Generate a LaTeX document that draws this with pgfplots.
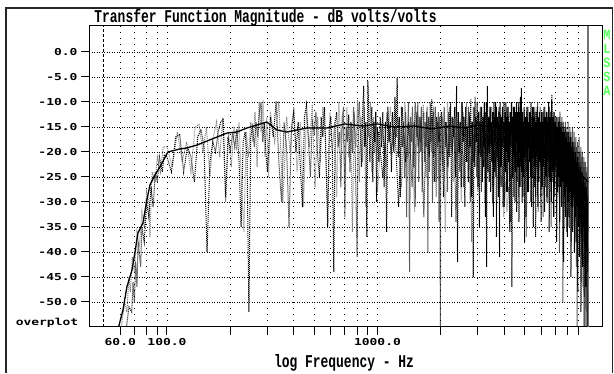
\documentclass[border=0pt]{standalone}
\usepackage{pgfplots}
\pgfplotsset{compat=1.18}
\usepackage{fontspec}
\setmainfont{Liberation Mono}
\newfontfamily\tickfont[FakeStretch=1.35]{DejaVu Sans Mono}
\newfontfamily\titlefont[FakeStretch=0.72]{Liberation Mono}
\newfontfamily\greenfont[FakeStretch=0.85]{Liberation Mono}
\definecolor{mlgreen}{RGB}{85,255,85}
\begin{document}
\begin{tikzpicture}[x=1pt,y=1pt]
\fill[white] (0,0) rectangle (614,373);
\draw[black!85, line width=1.6pt] (5.8,0) -- (5.8,365) -- (612.6,365) -- (612.6,0);
\begin{axis}[
  at={(89pt,46pt)}, anchor=south west,
  scale only axis, width=513pt, height=301pt,
  xmode=log, xmin=42.62, xmax=11654, ymin=-55, ymax=5.2,
  axis line style={line width=1pt, black},
  xtick={60,70,80,90,100,200,300,400,500,600,700,800,900,1000,2000,3000,4000,5000,6000,7000,8000,9000},
  xticklabels={60.0,,,,100.0,,,,,,,,,1000.0,,,,,,,,},
  minor xtick={},
  ytick={-50,-45,-40,-35,-30,-25,-20,-15,-10,-5,0},
  yticklabels={-50.0,-45.0,-40.0,-35.0,-30.0,-25.0,-20.0,-15.0,-10.0,-5.0,0.0},
  tick align=outside, tick pos=left, major tick length=8pt,
  tick style={black, line width=1pt},
  xmajorgrids, ymajorgrids,
  x grid style={black, line width=0.9pt, dash pattern=on 1pt off 5pt},
  y grid style={black, line width=0.9pt, dash pattern=on 1pt off 1.5pt},
  ticklabel style={font=\tickfont\bfseries\fontsize{9.6}{10}\selectfont},
]
% cursor lines
\addplot[black, line width=1pt, dash pattern=on 3pt off 2pt] coordinates {(50,-55) (50,5.2)};
\addplot[black!55, line width=1.6pt] coordinates {(10000,-55) (10000,5.2)};
% gray overplot trace
\addplot[black!50, line width=1pt, dash pattern=on 1pt off 1pt] table[row sep=\\] {
f db\\
60.5 -55.5\\ 63 -50\\ 64.5 -52\\ 66 -45\\ 67 -48\\ 68.5 -41\\ 70 -44\\ 72 -36\\ 74 -39\\ 76 -32\\ 78 -35\\ 80 -28\\ 82 -30\\ 83 -37\\ 85 -24\\ 88 -26\\ 90 -21\\ 93 -24\\ 96 -19\\
100 -19\\ 106 -23\\ 112 -16\\ 118 -22\\ 124 -18\\ 130 -24\\ 136 -15\\ 142 -14.5\\ 148 -20\\ 154 -15\\ 160 -25\\ 166 -17\\ 172 -14\\ 178 -21\\ 184 -13.2\\ 190 -30\\ 196 -16\\ 202 -23\\ 208 -15\\ 214 -19\\ 220 -14\\ 226 -27\\ 232 -36\\ 238 -16\\ 244 -21\\ 250 -14\\ 256 -18\\ 262 -12\\ 268 -23\\ 274 -10\\ 280 -16\\ 286 -9.6\\ 292 -21\\ 298 -13\\ 304 -25\\ 310 -12\\
325 -18\\ 340 -9.8\\ 355 -30\\ 370 -13\\ 385 -20\\ 400 -11\\ 415 -24\\ 430 -14\\ 445 -31\\ 460 -12\\ 475 -19\\ 490 -10.5\\ 505 -27\\ 520 -13\\ 535 -22\\ 550 -11\\ 565 -17\\ 580 -34\\ 595 -12\\ 610 -20\\ 625 -14\\ 640 -29\\ 655 -10\\ 670 -18\\ 685 -13\\ 700 -25\\ 715 -11\\ 730 -21\\ 745 -14\\ 760 -36\\ 775 -12\\ 790 -19\\ 805 -9.6\\ 820 -26\\ 835 -13\\ 850 -22\\ 865 -11\\ 880 -31\\ 895 -14\\ 910 -17\\ 925 -10\\ 940 -24\\ 955 -13\\ 970 -20\\ 985 -12\\ 1000 -28\\
1050 -14\\ 1100 -23\\ 1150 -11\\ 1200 -19\\ 1250 -13\\ 1300 -27\\ 1350 -10\\ 1400 -21\\ 1450 -15\\ 1500 -32\\ 1550 -12\\ 1600 -18\\ 1650 -10.5\\ 1700 -25\\ 1750 -13\\ 1800 -20\\ 1850 -11\\ 1900 -29\\ 1950 -14\\ 2000 -22\\ 2050 -12\\ 2100 -36\\ 2150 -10\\ 2200 -19\\ 2250 -13\\ 2300 -26\\ 2350 -11\\ 2400 -21\\ 2450 -14\\ 2500 -30\\ 2550 -12\\ 2600 -17\\ 2650 -10\\ 2700 -24\\ 2750 -13\\ 2800 -38\\ 2850 -11\\ 2900 -20\\ 2950 -14\\ 3000 -28\\
3070 -12\\ 3140 -22\\ 3210 -10\\ 3280 -27\\ 3350 -13\\ 3420 -19\\ 3490 -11\\ 3560 -31\\ 3630 -14\\ 3700 -23\\ 3770 -12\\ 3840 -26\\ 3910 -25\\ 3980 -33\\ 4050 -26\\ 4120 -32\\ 4190 -27\\ 4260 -34\\ 4330 -25\\ 4400 -20\\ 4470 -12\\ 4540 -24\\ 4610 -14\\ 4680 -29\\ 4750 -11\\ 4820 -21\\ 4890 -13\\ 4960 -27\\ 5030 -14\\ 5100 -37\\ 5170 -12\\ 5240 -22\\ 5310 -15\\ 5380 -28\\ 5450 -13\\ 5520 -20\\ 5590 -11\\ 5660 -26\\ 5730 -14\\ 5800 -32\\ 5870 -13\\ 5940 -23\\ 6010 -15\\ 6080 -27\\ 6150 -12\\ 6220 -21\\ 6290 -14\\ 6360 -30\\ 6430 -13\\ 6500 -24\\ 6570 -15\\ 6640 -28\\ 6710 -11\\ 6780 -22\\ 6850 -14\\ 6920 -33\\ 6990 -15\\ 7060 -25\\ 7130 -13\\ 7200 -29\\ 7270 -16\\ 7340 -23\\ 7410 -14\\ 7480 -31\\ 7550 -16\\ 7620 -26\\ 7690 -15\\ 7760 -35\\ 7830 -17\\ 7900 -28\\ 7970 -16\\ 8040 -32\\ 8110 -18\\ 8180 -27\\ 8250 -17\\ 8320 -39\\ 8390 -19\\ 8460 -30\\ 8530 -18\\ 8600 -34\\ 8670 -20\\ 8740 -29\\ 8810 -19\\ 8880 -42\\ 8950 -21\\ 9020 -33\\ 9090 -20\\ 9160 -38\\ 9230 -22\\ 9300 -31\\ 9370 -21\\ 9440 -47\\ 9510 -23\\ 9580 -35\\ 9650 -22\\ 9720 -41\\ 9790 -24\\ 9860 -52\\ 9930 -25\\ 10000 -40\\
};
% black overplot trace 2 (high frequencies)
\addplot[black, line width=1pt, dash pattern=on 1pt off 1pt] table[row sep=\\] {
f db\\
1010 -16\\ 1060 -25\\ 1110 -12\\ 1160 -20\\ 1210 -15\\ 1260 -31\\ 1310 -11\\ 1360 -22\\ 1410 -14\\ 1460 -27\\ 1510 -10\\ 1560 -19\\ 1610 -13\\ 1660 -33\\ 1710 -12\\ 1760 -21\\ 1810 -9.5\\ 1860 -26\\ 1910 -13\\ 1960 -18\\ 2010 -12\\ 2060 -29\\ 2110 -14\\ 2160 -23\\ 2210 -11\\ 2260 -20\\ 2310 -15\\ 2360 -34\\ 2410 -12\\ 2460 -24\\ 2510 -10\\ 2560 -27\\ 2610 -13\\ 2660 -19\\ 2710 -11\\ 2760 -30\\ 2810 -14\\ 2860 -22\\ 2910 -9\\ 2960 -25\\
3010 -13\\ 3045 -20\\ 3080 -11\\ 3115 -28\\ 3150 -14\\ 3185 -23\\ 3220 -12\\ 3255 -33\\ 3290 -10\\ 3325 -21\\ 3360 -13\\ 3395 -26\\ 3430 -11\\ 3465 -19\\ 3500 -14\\ 3535 -30\\ 3570 -12\\ 3605 -24\\ 3640 -10\\ 3675 -37\\ 3710 -13\\ 3745 -22\\ 3780 -11\\ 3815 -27\\ 3850 -14\\ 3885 -20\\ 3920 -12\\ 3955 -31\\ 3990 -10\\ 4025 -23\\ 4060 -13\\ 4095 -28\\ 4130 -11\\ 4165 -21\\ 4200 -14\\ 4235 -26\\ 4270 -12\\ 4305 -34\\ 4340 -10\\ 4375 -22\\ 4410 -13\\ 4445 -29\\ 4480 -11\\ 4515 -24\\ 4550 -14\\ 4585 -32\\ 4620 -12\\ 4655 -20\\ 4690 -10\\ 4725 -27\\ 4760 -13\\ 4795 -23\\ 4830 -11\\ 4865 -30\\ 4900 -14\\ 4935 -25\\ 4970 -12\\ 5005 -21\\ 5040 -15\\ 5075 -33\\ 5110 -13\\ 5145 -24\\ 5180 -11\\ 5215 -28\\ 5250 -14\\ 5285 -22\\ 5320 -12\\ 5355 -30\\ 5390 -15\\ 5425 -25\\ 5460 -11\\ 5495 -35\\ 5530 -13\\ 5565 -23\\ 5600 -12\\ 5635 -29\\ 5670 -14\\ 5705 -21\\ 5740 -11\\ 5775 -31\\ 5810 -13\\ 5845 -26\\ 5880 -12\\ 5915 -22\\ 5950 -14\\ 5985 -34\\
6020 -12\\ 6060 -27\\ 6100 -14\\ 6140 -23\\ 6180 -11\\ 6220 -32\\ 6260 -13\\ 6300 -25\\ 6340 -12\\ 6380 -29\\ 6420 -14\\ 6460 -22\\ 6500 -10\\ 6540 -36\\ 6580 -13\\ 6620 -26\\ 6660 -12\\ 6700 -30\\ 6740 -8.5\\ 6780 -24\\ 6820 -13\\ 6860 -33\\ 6900 -12\\ 6940 -27\\ 6980 -14\\ 7020 -23\\ 7060 -13\\ 7100 -38\\ 7140 -15\\ 7180 -28\\ 7220 -14\\ 7260 -25\\ 7300 -13\\ 7340 -34\\ 7380 -15\\ 7420 -27\\ 7460 -14\\ 7500 -31\\ 7540 -16\\ 7580 -26\\ 7620 -15\\ 7660 -42\\ 7700 -16\\ 7740 -29\\ 7780 -15\\ 7820 -33\\ 7860 -17\\ 7900 -27\\ 7940 -16\\ 7980 -37\\ 8020 -18\\ 8060 -30\\ 8100 -16\\ 8140 -35\\ 8180 -18\\ 8220 -28\\ 8260 -17\\ 8300 -45\\ 8340 -19\\ 8380 -31\\ 8420 -18\\ 8460 -36\\ 8500 -20\\ 8540 -29\\ 8580 -19\\ 8620 -40\\ 8660 -21\\ 8700 -33\\ 8740 -20\\ 8780 -38\\ 8820 -22\\ 8860 -31\\ 8900 -21\\ 8940 -48\\ 8980 -23\\ 9020 -35\\ 9060 -22\\ 9100 -41\\ 9140 -24\\ 9180 -33\\ 9220 -23\\ 9260 -52\\ 9300 -25\\ 9340 -37\\ 9380 -24\\ 9420 -43\\ 9460 -26\\ 9500 -35\\ 9540 -25\\ 9580 -55\\ 9620 -27\\ 9660 -39\\ 9700 -26\\ 9740 -47\\ 9780 -28\\ 9820 -40\\ 9860 -27\\ 9900 -55\\ 9940 -29\\ 9980 -42\\
};
% black overplot trace
\addplot[black, line width=1pt, dash pattern=on 1pt off 1pt] table[row sep=\\] {
f db\\
64 -55.5\\ 66 -51\\ 68 -52\\ 69 -46\\ 70 -50\\ 71 -42\\ 72 -47\\ 73 -38\\ 75 -43\\ 76 -35\\ 78 -38\\ 80 -30\\ 82 -33\\ 84 -27\\ 86 -31\\ 88 -24\\ 90 -26\\ 92 -21\\ 95 -24\\ 97 -20.5\\
100 -21\\ 105 -24\\ 110 -17\\ 115 -16.5\\ 120 -24\\ 125 -19\\ 130 -21\\ 135 -26\\ 140 -17\\ 145 -15.5\\ 150 -19\\ 155 -40\\ 160 -22\\ 165 -18\\ 170 -20\\ 175 -16\\ 180 -14\\ 185 -13.5\\ 190 -29\\ 195 -17\\ 200 -20\\ 205 -16\\ 210 -19\\ 215 -15.5\\ 220 -22\\ 225 -35\\ 230 -18\\ 235 -16\\ 240 -21\\ 245 -52\\ 250 -17\\ 255 -15\\ 260 -19\\ 265 -14\\ 270 -17\\ 275 -12\\ 280 -10\\ 285 -18\\ 290 -14\\ 295 -20\\ 300 -24\\
310 -13\\ 320 -17\\ 330 -9.8\\ 340 -22\\ 350 -30\\ 360 -14\\ 370 -19\\ 380 -35\\ 390 -15\\ 400 -12\\ 410 -20\\ 420 -14\\ 430 -23\\ 440 -31\\ 450 -13\\ 460 -10.5\\ 470 -18\\ 480 -25\\ 490 -14\\ 500 -16\\ 510 -12\\ 520 -21\\ 530 -25\\ 540 -13\\ 550 -17\\ 560 -11\\ 570 -22\\ 580 -35\\ 590 -15\\ 600 -13\\ 610 -20\\ 620 -44\\ 630 -14\\ 640 -12\\ 650 -19\\ 660 -16\\ 670 -27\\ 680 -13\\ 690 -11\\ 700 -33\\ 710 -15\\ 720 -18\\ 730 -12.5\\ 740 -24\\ 750 -14\\ 760 -20\\ 770 -11\\ 780 -16\\ 790 -28\\ 800 -41\\ 810 -13\\ 820 -10\\ 830 -17\\ 840 -23\\ 850 -12\\ 860 -6.8\\ 870 -19\\ 880 -14\\ 890 -37\\ 900 -5.8\\ 910 -13\\ 920 -22\\ 930 -15\\ 940 -11\\ 950 -26\\ 960 -14\\ 970 -18\\ 980 -12\\ 990 -30\\ 1000 -15\\
1015 -22\\ 1030 -13\\ 1045 -19\\ 1060 -12\\ 1075 -27\\ 1090 -14\\ 1105 -36\\ 1120 -11\\ 1135 -18\\ 1150 -14\\ 1165 -24\\ 1180 -12\\ 1195 -20\\ 1210 -9\\ 1225 -17\\ 1240 -5.2\\ 1255 -21\\ 1270 -13\\ 1285 -29\\ 1300 -11\\ 1315 -19\\ 1330 -14\\ 1345 -25\\ 1360 -12\\ 1375 -33\\ 1390 -15\\ 1405 -10\\ 1420 -44\\ 1435 -13\\ 1450 -18\\ 1465 -11\\ 1480 -23\\ 1495 -14\\ 1510 -31\\ 1525 -12\\ 1540 -17\\ 1555 -10\\ 1570 -26\\ 1585 -13\\ 1600 -20\\ 1615 -11\\ 1630 -28\\ 1645 -15\\ 1660 -12\\ 1675 -22\\ 1690 -14\\ 1705 -19\\ 1720 -11\\ 1735 -40\\ 1750 -13\\ 1765 -24\\ 1780 -10\\ 1795 -18\\ 1810 -13\\ 1825 -30\\ 1840 -12\\ 1855 -21\\ 1870 -15\\ 1885 -11\\ 1900 -26\\ 1915 -14\\ 1930 -19\\ 1945 -12\\ 1960 -34\\ 1975 -13\\ 1990 -55\\ 2000 -16\\
2025 -13\\ 2050 -24\\ 2075 -11\\ 2100 -19\\ 2125 -14\\ 2150 -28\\ 2175 -12\\ 2200 -21\\ 2225 -10\\ 2250 -33\\ 2275 -13\\ 2300 -17\\ 2325 -11\\ 2350 -25\\ 2375 -6.8\\ 2400 -42\\ 2425 -12\\ 2450 -20\\ 2475 -14\\ 2500 -27\\ 2525 -10\\ 2550 -18\\ 2575 -13\\ 2600 -31\\ 2625 -11\\ 2650 -22\\ 2675 -15\\ 2700 -26\\ 2725 -12\\ 2750 -19\\ 2775 -9.5\\ 2800 -29\\ 2825 -14\\ 2850 -45\\ 2875 -11\\ 2900 -23\\ 2925 -13\\ 2950 -18\\ 2975 -10\\ 3000 -27\\ 3025 -12\\ 3050 -35\\ 3075 -14\\ 3100 -21\\ 3125 -11\\ 3150 -26\\ 3175 -13\\ 3200 -19\\ 3225 -10\\ 3250 -30\\ 3275 -12\\ 3300 -43\\ 3325 -6.8\\ 3350 -24\\ 3375 -13\\ 3400 -20\\ 3425 -11\\ 3450 -28\\ 3475 -14\\ 3500 -22\\ 3525 -12\\ 3550 -33\\ 3575 -10\\ 3600 -18\\ 3625 -13\\ 3650 -25\\ 3675 -11\\ 3700 -21\\ 3725 -14\\ 3750 -29\\ 3775 -12\\ 3800 -41\\ 3825 -10\\ 3850 -23\\ 3875 -13\\ 3900 -27\\ 3925 -11\\ 3950 -19\\ 3975 -14\\ 4000 -31\\ 4025 -12\\ 4050 -24\\ 4075 -10\\ 4100 -20\\ 4125 -13\\ 4150 -28\\ 4175 -11\\ 4200 -22\\ 4225 -14\\ 4250 -36\\ 4275 -12\\ 4300 -19\\ 4325 -10\\ 4350 -47\\ 4375 -13\\ 4400 -25\\ 4425 -11\\ 4450 -21\\ 4475 -14\\ 4500 -30\\ 4525 -12\\ 4550 -18\\ 4575 -10\\ 4600 -26\\ 4625 -13\\ 4650 -23\\ 4675 -11\\ 4700 -34\\ 4725 -12\\ 4750 -20\\ 4775 -9\\ 4800 -27\\ 4825 -7.2\\ 4850 -24\\ 4875 -12\\ 4900 -29\\ 4925 -14\\ 4950 -21\\ 4975 -11\\ 5000 -38\\
5040 -13\\ 5080 -22\\ 5120 -11\\ 5160 -28\\ 5200 -14\\ 5240 -19\\ 5280 -12\\ 5320 -25\\ 5360 -10\\ 5400 -31\\ 5440 -13\\ 5480 -21\\ 5520 -11\\ 5560 -27\\ 5600 -14\\ 5640 -37\\ 5680 -12\\ 5720 -23\\ 5760 -10\\ 5800 -26\\ 5840 -13\\ 5880 -20\\ 5920 -11\\ 5960 -29\\ 6000 -14\\ 6040 -24\\ 6080 -12\\ 6120 -33\\ 6160 -13\\ 6200 -21\\ 6240 -11\\ 6280 -27\\ 6320 -14\\ 6360 -23\\ 6400 -12\\ 6440 -30\\ 6480 -13\\ 6520 -25\\ 6560 -11\\ 6600 -22\\ 6640 -14\\ 6680 -35\\ 6720 -9.5\\ 6760 -26\\ 6800 -13\\ 6840 -21\\ 6880 -12\\ 6920 -29\\ 6960 -14\\ 7000 -24\\ 7040 -13\\ 7080 -32\\ 7120 -15\\ 7160 -22\\ 7200 -13\\ 7240 -27\\ 7280 -14\\ 7320 -40\\ 7360 -12\\ 7400 -25\\ 7440 -15\\ 7480 -30\\ 7520 -13\\ 7560 -23\\ 7600 -50\\ 7640 -14\\ 7680 -26\\ 7720 -16\\ 7760 -31\\ 7800 -14\\ 7840 -24\\ 7880 -15\\ 7920 -36\\ 7960 -16\\ 8000 -27\\ 8040 -14\\ 8080 -33\\ 8120 -17\\ 8160 -25\\ 8200 -15\\ 8240 -29\\ 8280 -16\\ 8320 -38\\ 8360 -17\\ 8400 -27\\ 8440 -15\\ 8480 -31\\ 8520 -18\\ 8560 -26\\ 8600 -16\\ 8640 -34\\ 8680 -18\\ 8720 -29\\ 8760 -17\\ 8800 -43\\ 8840 -19\\ 8880 -55\\ 8920 -18\\ 8960 -31\\ 9000 -20\\ 9040 -27\\ 9080 -17\\ 9120 -36\\ 9160 -20\\ 9200 -30\\ 9240 -19\\ 9280 -46\\ 9320 -21\\ 9360 -33\\ 9400 -20\\ 9440 -38\\ 9480 -22\\ 9520 -30\\ 9560 -21\\ 9600 -49\\ 9640 -23\\ 9680 -34\\ 9720 -22\\ 9760 -55\\ 9800 -24\\ 9840 -37\\ 9880 -23\\ 9920 -44\\ 9960 -25\\ 10000 -36\\
};
% smoothed trace
\addplot[black, line width=1.3pt] table[row sep=\\] {
f db\\
58.5 -55.5\\ 61.8 -51.6\\ 64.5 -47\\ 68.2 -43.6\\ 70.5 -40\\ 72.8 -36.2\\ 76.9 -34.2\\ 80.3 -29.6\\ 83 -26.6\\ 87.7 -24.6\\ 92.6 -23\\ 101 -20\\ 115 -19.4\\ 124 -19.2\\ 139 -18.6\\ 155 -17.8\\ 173 -17\\ 193 -16.2\\ 215 -16\\ 240 -15.2\\ 268 -14.6\\ 298 -14\\ 333 -15.6\\ 371 -16\\ 462 -15.2\\ 575 -15.2\\ 700 -14.4\\ 850 -14.8\\ 1000 -14.4\\ 1200 -15\\ 1500 -14.8\\ 1800 -15.4\\ 2200 -14.8\\ 2600 -15.2\\ 3000 -14.6\\ 3500 -15\\ 4000 -14.4\\ 4400 -14\\ 4700 -15.6\\ 5000 -18\\ 5300 -19.4\\ 5600 -17\\ 5900 -15\\ 6200 -16.5\\ 6700 -18.5\\ 7200 -20\\ 7800 -21.5\\ 8400 -22\\ 9000 -23.5\\ 9500 -25\\ 10000 -26\\
};
\end{axis}
\node[font=\titlefont\bfseries\fontsize{18}{18}\selectfont, anchor=base, inner sep=0pt] at (265.5,350) {Transfer Function Magnitude - dB volts/volts};
\node[font=\titlefont\bfseries\fontsize{18}{18}\selectfont, anchor=base, inner sep=0pt] at (344,5) {log Frequency - Hz};
\node[font=\tickfont\bfseries\fontsize{9.6}{10}\selectfont, anchor=base, inner sep=0pt] at (47,47) {overplot};
\foreach \ch/\yy in {M/333,L/319,S/305,S/291,A/277}
  \node[font=\greenfont\bfseries\fontsize{14}{14}\selectfont, text=mlgreen, inner sep=0pt, anchor=base, text height=9pt, text depth=0pt] at (607,\yy) {\ch};
\end{tikzpicture}
\end{document}
